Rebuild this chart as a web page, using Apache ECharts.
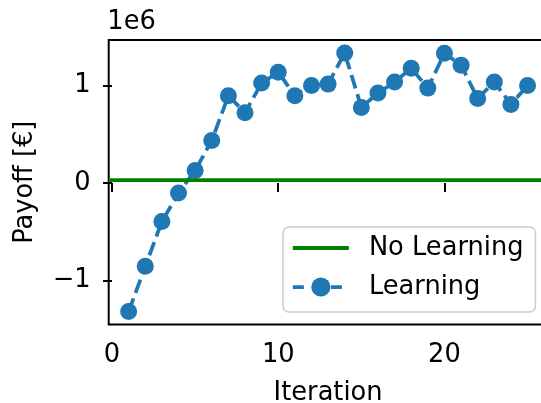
<!DOCTYPE html>
<html>
<head>
<meta charset="utf-8">
<script src="https://cdn.jsdelivr.net/npm/echarts@6/dist/echarts.min.js"></script>
<style>
  html, body { margin: 0; padding: 0; background: #fff; overflow: hidden; }
  #chart { width: 548px; height: 403px; }
</style>
</head>
<body>
<div id="chart"></div>
<script>
// Payoff per learning iteration (EUR)
const iterations = [1, 2, 3, 4, 5, 6, 7, 8, 9, 10, 11, 12, 13, 14, 15, 16, 17, 18, 19, 20, 21, 22, 23, 24, 25];
const learningPayoff = [
  -1319000, -855000, -395000, -102000, 130000, 437000, 897000, 723000, 1027000, 1139000,
  897000, 1002000, 1016000, 1336000, 777000, 924000, 1037000, 1180000, 975000, 1333000,
  1211000, 869000, 1037000, 808000, 1002000
];
// Constant payoff of the baseline without learning
const noLearningPayoff = 38000;
const xTicks = [0, 10, 20];
const yTicks = [-1000000, 0, 1000000];

const FONT = 'DejaVu Sans';
const FS = 25.7;
const BLUE = '#1f77b4';
const GREEN = '#008000';

const chart = echarts.init(document.getElementById('chart'), null, { renderer: 'canvas' });

const fmtY = v => String(Math.round(v / 1e6)).replace('-', '\u2212');

chart.setOption({
  animation: false,
  backgroundColor: '#fff',
  grid: {
    left: 108.7, top: 40, right: 0.5, bottom: 78.5,
    outerBoundsMode: 'none',
    containLabel: false,
    show: true, borderColor: '#000', borderWidth: 2, backgroundColor: 'transparent'
  },
  graphic: [
    {
      type: 'text',
      x: 107.3, y: 22.8,
      style: { text: '1e6', fontFamily: FONT, fontSize: FS, fill: '#000', textAlign: 'left', textVerticalAlign: 'middle' }
    }
  ],
  xAxis: {
    type: 'value',
    min: -0.2, max: 26.2,
    name: 'Iteration',
    nameLocation: 'middle',
    nameGap: 56,
    nameTextStyle: { fontFamily: FONT, fontSize: FS, color: '#000' },
    axisLine: { show: false },
    splitLine: { show: false },
    axisTick: { show: true, inside: false, length: 9, lineStyle: { color: '#000', width: 2 }, customValues: xTicks },
    axisLabel: { show: true, margin: 18, fontFamily: FONT, fontSize: FS, color: '#000', customValues: xTicks }
  },
  yAxis: {
    type: 'value',
    min: -1452000, max: 1469000,
    name: 'Payoff [\u20ac]',
    nameLocation: 'middle',
    nameRotate: 90,
    nameGap: 70,
    nameTextStyle: { fontFamily: FONT, fontSize: FS, color: '#000' },
    axisLine: { show: false },
    splitLine: { show: false },
    axisTick: { show: true, inside: false, length: 9, lineStyle: { color: '#000', width: 2 }, customValues: yTicks },
    axisLabel: { show: true, margin: 18, fontFamily: FONT, fontSize: FS, color: '#000', customValues: yTicks, formatter: fmtY }
  },
  legend: {
    orient: 'vertical',
    left: 283, top: 227,
    padding: [8, 12, 12, 8],
    itemGap: 13,
    itemWidth: 56,
    itemHeight: 24,
    backgroundColor: 'rgba(255,255,255,0.8)',
    borderColor: '#cccccc',
    borderWidth: 1.5,
    borderRadius: 6,
    textStyle: { fontFamily: FONT, fontSize: FS, color: '#000', lineHeight: 26, padding: [0, 0, 0, 15] },
    data: [
      { name: 'No Learning', icon: 'path://M0,0H56V4H0Z' },
      { name: 'Learning', lineStyle: { width: 3.75, type: [11, 8] } }
    ]
  },
  series: [
    {
      name: 'No Learning',
      type: 'line',
      z: 1,
      data: [],
      symbol: 'none',
      itemStyle: { color: GREEN },
      lineStyle: { color: GREEN, width: 3.75 },
      markLine: {
        silent: true,
        symbol: 'none',
        label: { show: false },
        lineStyle: { color: GREEN, width: 3.75, type: 'solid' },
        data: [{ yAxis: noLearningPayoff }]
      }
    },
    {
      name: 'Learning',
      type: 'line',
      z: 3,
      data: iterations.map((it, i) => [it, learningPayoff[i]]),
      symbol: 'circle',
      symbolSize: 17,
      itemStyle: { color: BLUE },
      lineStyle: { color: BLUE, width: 3.75, type: [14, 6] }
    }
  ]
});
</script>
</body>
</html>
